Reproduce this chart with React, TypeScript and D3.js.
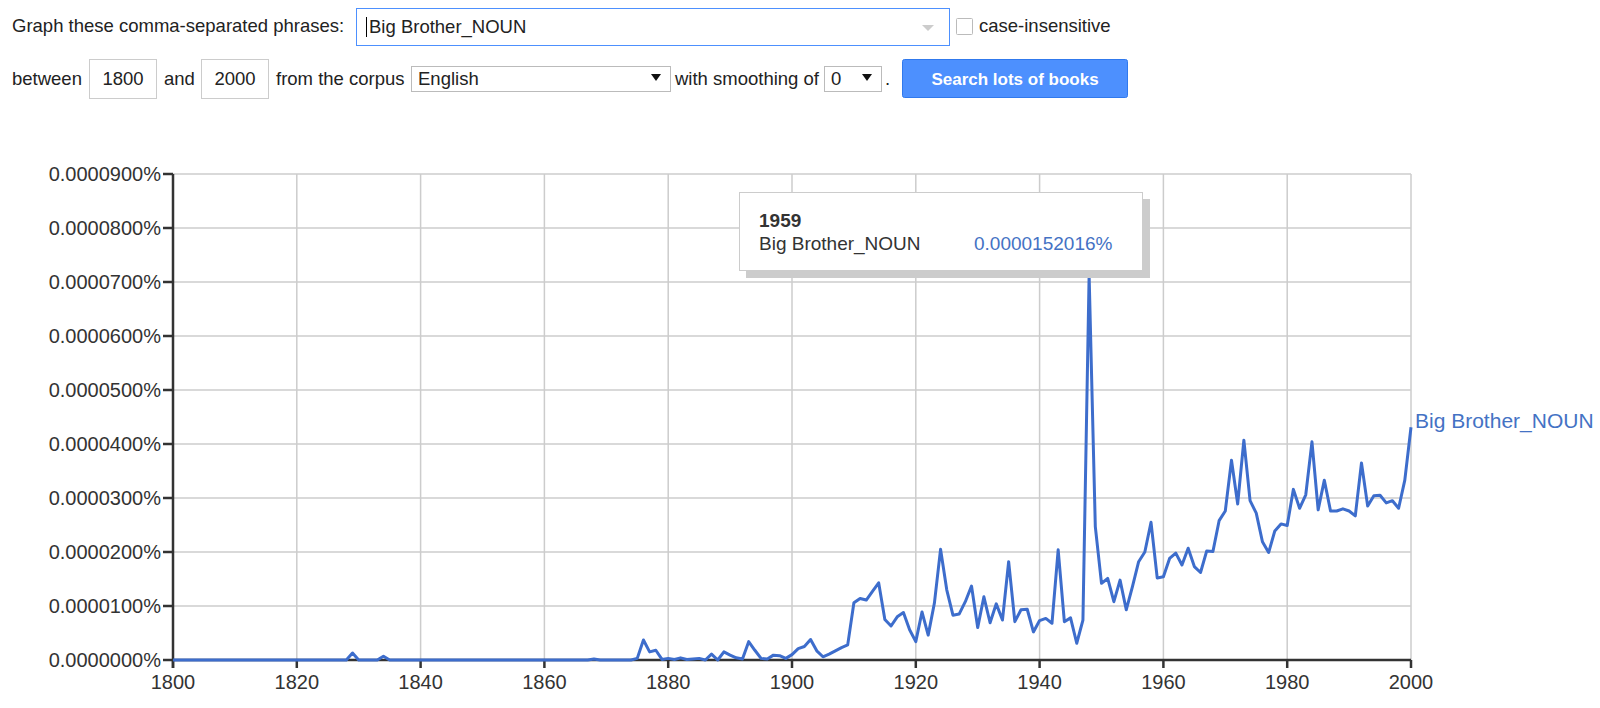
import React from "react";
import * as d3 from "d3";

// frequency in units of 0.0000001 %  (152.016 -> 0.0000152016%)
const years = d3.range(1800, 2001);
const frequency = [
  0, 0, 0, 0, 0, 0, 0, 0, 0, 0, // 1800
  0, 0, 0, 0, 0, 0, 0, 0, 0, 0, // 1810
  0, 0, 0, 0, 0, 0, 0, 0, 0, 13, // 1820
  0, 0, 0, 0, 7, 0, 0, 0, 0, 0, // 1830
  0, 0, 0, 0, 0, 0, 0, 0, 0, 0, // 1840
  0, 0, 0, 0, 0, 0, 0, 0, 0, 0, // 1850
  0, 0, 0, 0, 0, 0, 0, 0, 2, 0, // 1860
  0, 0, 0, 0, 0, 3, 37, 15, 18, 1, // 1870
  3, 1, 4, 1, 2, 3, 0, 11, 0, 15, // 1880
  9, 4, 2, 34, 18, 3, 2, 9, 8, 3, // 1890
  10, 21, 25, 38, 17, 6, 11, 17, 23, 28, // 1900
  106, 114, 111, 127, 143, 75, 63, 80, 88, 56, // 1910
  34, 89, 46, 105, 205, 130, 83, 85, 108, 137, // 1920
  60, 117, 69, 104, 74, 182, 71, 93, 94, 52, // 1930
  73, 77, 68, 204, 71, 78, 31, 74, 712, 247, // 1940
  142, 151, 108, 148, 93, 136, 182, 200, 255, 152.016, // 1950
  154, 188, 198, 176, 207, 173, 162, 202, 201, 258, // 1960
  276, 370, 289, 407, 295, 272, 219, 199, 239, 252, // 1970
  249, 316, 281, 306, 404, 278, 333, 276, 276, 280, // 1980
  276, 267, 365, 285, 304, 305, 291, 295, 281, 333, // 1990
  431, // 2000
];

const seriesName = "Big Brother_NOUN";
const hoverYear = 1959;
const yTickValues = [0, 100, 200, 300, 400, 500, 600, 700, 800, 900];
const xTickValues = [1800, 1820, 1840, 1860, 1880, 1900, 1920, 1940, 1960, 1980, 2000];
const startYear = "1800";
const endYear = "2000";
const corpus = "English";
const smoothing = "0";

const FONT = "Arial, 'Liberation Sans', Helvetica, sans-serif";
const BLUE = "#3d6dcc";

const formatPct = (v: number, digits: number) => (v / 1e7).toFixed(digits) + "%";

const Form = () => {
  const t = { fontSize: 18.5, fill: "#222" };
  return (
    <g fontFamily={FONT}>
      <text x={12} y={32} {...t}>Graph these comma-separated phrases:</text>
      <rect x={356.5} y={8.5} width={593} height={37} fill="#fff" stroke="#4d90fe" />
      <line x1={366.5} x2={366.5} y1={17} y2={37} stroke="#000" />
      <text x={369} y={33} {...t}>{seriesName}</text>
      <path d="M922,25 L934,25 L928,31 Z" fill="#ccc" />
      <rect x={956.5} y={18.5} width={16} height={16} rx={1} fill="#fff" stroke="#bbb" />
      <text x={979} y={32} {...t}>case-insensitive</text>

      <text x={12} y={85} {...t}>between</text>
      <rect x={89.5} y={59.5} width={67} height={39} fill="#fff" stroke="#ccc" />
      <text x={123} y={85} textAnchor="middle" {...t}>{startYear}</text>
      <text x={164} y={85} {...t}>and</text>
      <rect x={201.5} y={59.5} width={67} height={39} fill="#fff" stroke="#ccc" />
      <text x={235} y={85} textAnchor="middle" {...t}>{endYear}</text>
      <text x={276} y={85} {...t}>from the corpus</text>
      <rect x={411.5} y={66.5} width={259} height={25} fill="#fff" stroke="#bbb" />
      <text x={418} y={85} {...t}>{corpus}</text>
      <path d="M651,74 L661,74 L656,81 Z" fill="#111" />
      <text x={675} y={85} {...t}>with smoothing of</text>
      <rect x={824.5} y={66.5} width={57} height={25} fill="#fff" stroke="#bbb" />
      <text x={831} y={85} {...t}>{smoothing}</text>
      <path d="M862,74 L872,74 L867,81 Z" fill="#111" />
      <text x={885} y={85} {...t}>.</text>
      <rect x={902.5} y={59.5} width={225} height={38} rx={2} fill="#4d90fe" stroke="#3079ed" />
      <text x={1015} y={85} textAnchor="middle" fontSize={17} fontWeight="bold" fill="#fff">
        Search lots of books
      </text>
    </g>
  );
};

export default function App() {
  const x = d3.scaleLinear().domain([1800, 2000]).range([173, 1411]);
  const y = d3.scaleLinear().domain([0, 900]).range([660, 174]);
  const [y0, y1] = y.range();
  const [x0, x1] = x.range();

  const path = d3
    .line<number>()
    .x((_, i) => x(years[i]))
    .y((d) => y(d))(frequency) as string;

  const last = frequency[frequency.length - 1];
  const tipVal = formatPct(frequency[years.indexOf(hoverYear)], 10);

  return (
    <div style={{ position: "absolute", left: 0, top: 0, background: "#fff" }}>
      <svg width={1600} height={708} style={{ display: "block" }}>
        <rect width={1600} height={708} fill="#fff" />
        <Form />

        {/* grid */}
        {yTickValues.filter((v) => v > 0).map((v) => (
          <line key={"gy" + v} x1={x0} x2={x1} y1={y(v)} y2={y(v)} stroke="#ccc" strokeWidth={1.5} />
        ))}
        {xTickValues.filter((v) => v > 1800).map((v) => (
          <line key={"gx" + v} x1={x(v)} x2={x(v)} y1={y1} y2={y0} stroke="#ccc" strokeWidth={1.5} />
        ))}

        {/* axes */}
        <g fontFamily={FONT} fontSize={20} fill="#333">
          <line x1={x0} x2={x0} y1={y1} y2={y0 + 8} stroke="#333" strokeWidth={2.5} />
          <line x1={x0} x2={x1} y1={y0} y2={y0} stroke="#333" strokeWidth={2.5} />
          {yTickValues.map((v) => (
            <g key={"ty" + v}>
              <line x1={x0 - 10} x2={x0} y1={y(v)} y2={y(v)} stroke="#333" strokeWidth={2.5} />
              <text x={x0 - 12} y={y(v)} dy="0.35em" textAnchor="end">
                {formatPct(v, 7)}
              </text>
            </g>
          ))}
          {xTickValues.map((v) => (
            <g key={"tx" + v}>
              <line x1={x(v)} x2={x(v)} y1={y0} y2={y0 + 8} stroke="#333" strokeWidth={2.5} />
              <text x={x(v)} y={689} textAnchor="middle">
                {v}
              </text>
            </g>
          ))}
        </g>

        {/* series */}
        <path d={path} fill="none" stroke={BLUE} strokeWidth={3} strokeLinejoin="round" />
        <text x={x(2000) + 4} y={y(last) + 1} fontFamily={FONT} fontSize={21} fill="#4472c4">
          {seriesName}
        </text>

        {/* tooltip */}
        <g fontFamily={FONT} fontSize={19}>
          <rect x={746} y={199} width={404} height={79} fill="#ccc" />
          <rect x={739.5} y={192.5} width={403} height={78} fill="#fff" stroke="#ccc" />
          <text x={759} y={227} fontWeight="bold" fill="#333">{hoverYear}</text>
          <text x={759} y={250} fill="#333">{seriesName}</text>
          <text x={974} y={250} fill="#4472c4">{tipVal}</text>
        </g>
      </svg>
    </div>
  );
}
